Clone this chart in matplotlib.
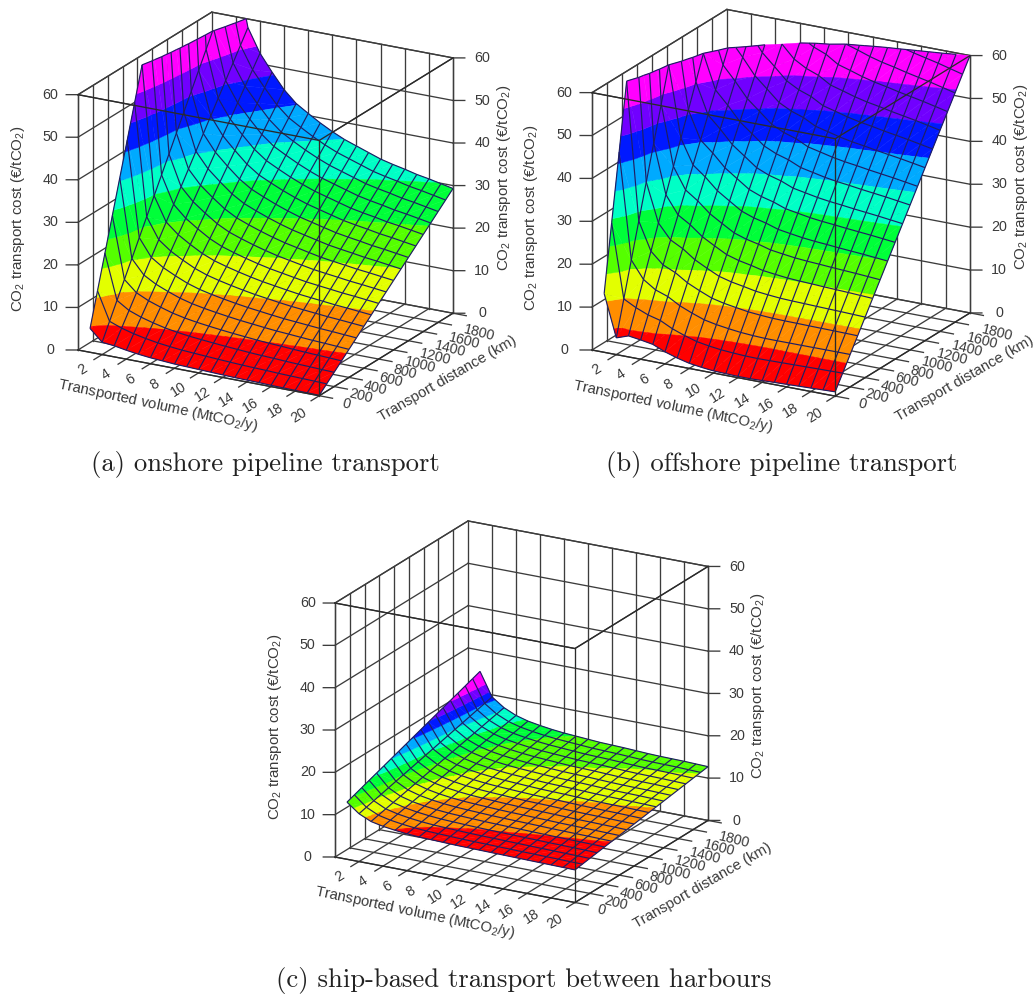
import numpy as np
import matplotlib
matplotlib.use('Agg')
import matplotlib.pyplot as plt
from mpl_toolkits.mplot3d import proj3d
from mpl_toolkits.mplot3d.art3d import Poly3DCollection, Line3DCollection

plt.rcParams['font.family'] = ['Liberation Sans', 'DejaVu Sans']
plt.rcParams['mathtext.default'] = 'regular'

volumes = np.arange(1, 21)           # MtCO2/y
distances = np.arange(0, 1801, 100)  # km, mesh lines of the surface
x_ticks = list(range(2, 21, 2))
y_ticks = list(range(0, 1801, 200))
z_ticks = list(range(0, 61, 10))
band_colors = ['#ff0000', '#ff8e00', '#e3ff00', '#55ff00', '#00ff39',
               '#00ffc6', '#00aaff', '#0019ff', '#7100ff', '#ff00ff']

# cost read along the two edges of each surface, d=0 km and d=1800 km (the
# constant-volume mesh lines are straight between them in the picture)
onshore_near = [5.6, 2.9, 2.6, 2.1, 1.7, 1.4, 1.2, 1.0, 0.9, 0.8,
                0.7, 0.6, 0.5, 0.45, 0.4, 0.3, 0.25, 0.2, 0.15, 0.1]
onshore_far = [145.5, 72, 58, 52.5, 48.6, 45, 42.3, 40.5, 38.8, 37.3,
               36, 35, 34, 33, 32.3, 31.7, 31, 30.5, 29.9, 29.3]
offshore_near = [13.7, 3.9, 4.9, 4.5, 4.0, 2.8, 1.9, 1.2, 0.8, 0.5,
                 0.4, 0.3, 0.3, 0.4, 0.5, 0.6, 0.7, 0.8, 0.9, 1.0]
offshore_far = [291, 148, 104, 90, 85, 80, 76.6, 73, 71, 69.7,
                67.5, 66.5, 65.4, 64.5, 63.8, 63, 62.3, 61.6, 60.8, 60]
ship_near = [13.5, 11.3, 10.0, 9.4, 9.0, 8.7, 8.5, 8.4, 8.3, 8.2,
             8.15, 8.1, 8.05, 8.0, 7.95, 7.9, 7.85, 7.8, 7.75, 7.7]
ship_far = [25, 19.5, 17.5, 16.2, 15.4, 14.9, 14.5, 14.2, 14.0, 13.8,
            13.6, 13.5, 13.4, 13.25, 13.1, 13.0, 12.95, 12.9, 12.8, 12.7]

W, H = 1035, 994
line_col = '#3c3c3c'
mesh_col = '#1e1e64'
text_col = '#3a3a3a'
fig = plt.figure(figsize=(W / 100, H / 100), dpi=100)


def clip(pts, level, keep_below):
    # Sutherland-Hodgman against a horizontal plane z = level
    out = []
    for i in range(len(pts)):
        p, q = pts[i], pts[(i + 1) % len(pts)]
        p_in = p[2] <= level if keep_below else p[2] >= level
        q_in = q[2] <= level if keep_below else q[2] >= level
        if p_in:
            out.append(p)
        if p_in != q_in:
            t = (level - p[2]) / (q[2] - p[2])
            out.append((p[0] + t * (q[0] - p[0]), p[1] + t * (q[1] - p[1]), level))
    return out


def draw_surface(ax, near, far, levels, cap_at=60):
    near = np.array(near)
    far = np.array(far)
    Z = near[:, None] + (far - near)[:, None] * distances[None, :] / 1800.0
    polys = []
    cols = []
    segs = []
    for i in range(len(volumes) - 1):
        for j in range(len(distances) - 1):
            a = (volumes[i], distances[j], Z[i, j])
            b = (volumes[i + 1], distances[j], Z[i + 1, j])
            c = (volumes[i + 1], distances[j + 1], Z[i + 1, j + 1])
            d = (volumes[i], distances[j + 1], Z[i, j + 1])
            for tri in ([a, b, c], [a, c, d]):
                tri = clip(tri, cap_at, True)
                if len(tri) < 3:
                    continue
                for k, col in enumerate(band_colors):
                    part = tri if k == len(band_colors) - 1 else clip(tri, levels[k + 1], True)
                    if len(part) >= 3 and k > 0:
                        part = clip(part, levels[k], False)
                    if len(part) >= 3:
                        polys.append(part)
                        cols.append(col)
                capped = [p for p in tri if abs(p[2] - cap_at) < 1e-9]
                if len(capped) == 2:
                    segs.append(capped)
    # mesh lines, cut off at the top of the cost axis
    for i in range(len(volumes)):
        for j in range(len(distances) - 1):
            s = clip([(volumes[i], distances[j], Z[i, j]),
                      (volumes[i], distances[j + 1], Z[i, j + 1])], cap_at, True)
            if len(s) >= 2:
                segs.append(s[:2])
    for j in range(len(distances)):
        for i in range(len(volumes) - 1):
            s = clip([(volumes[i], distances[j], Z[i, j]),
                      (volumes[i + 1], distances[j], Z[i + 1, j])], cap_at, True)
            if len(s) >= 2:
                segs.append(s[:2])
    surf = Poly3DCollection(polys, facecolors=cols, edgecolors=cols, linewidths=0.3, zorder=2)
    ax.add_collection3d(surf)
    ax.add_collection3d(Line3DCollection(segs, colors=mesh_col, linewidths=0.85, zorder=3))


def draw_box(ax):
    xm, ym, zm = 20, 1800, 60
    kw = dict(color=line_col, lw=0.95, zorder=1)
    for x in x_ticks:
        ax.plot([x, x], [0, ym], [0, 0], **kw)
        ax.plot([x, x], [ym, ym], [0, zm], **kw)
        ax.plot([x, x], [0, -110], [0, 0], **kw)
    for y in y_ticks:
        ax.plot([0, xm], [y, y], [0, 0], **kw)
        ax.plot([0, 0], [y, y], [0, zm], **kw)
        ax.plot([xm, xm + 1.1], [y, y], [0, 0], **kw)
    for z in z_ticks:
        ax.plot([0, 0], [0, ym], [z, z], **kw)
        ax.plot([0, xm], [ym, ym], [z, z], **kw)
        ax.plot([0, -0.75], [0, -37], [z, z], **kw)
        ax.plot([xm, xm + 0.75], [ym, ym + 37], [z, z], **kw)
    ax.plot([0, 0, xm, xm, 0], [0, ym, ym, 0, 0], [zm] * 5, **kw)
    ax.plot([0, 0], [0, 0], [0, zm], **kw)
    ax.plot([xm, xm], [ym, ym], [0, zm], **kw)
    # front edges sit on top of the surface
    top = dict(color='#2a2a2a', lw=0.95, zorder=4)
    ax.plot([0, xm, xm], [0, 0, ym], [zm, zm, zm], **top)
    ax.plot([xm, xm], [0, 0], [0, zm], **top)
    ax.plot([0, xm, xm], [0, 0, ym], [0, 0, 0], **top)


def to_px(ax, x, y, z):
    xp, yp, _ = proj3d.proj_transform(x, y, z, ax.get_proj())
    return ax.transData.transform((xp, yp))


def label(ax, x, y, z, s, rotation=0, size=10.3, drop=0):
    # text goes on the figure at the projected spot, so the rotation stays as given
    px, py = to_px(ax, x, y, z)
    fig.text(px / W, (py - drop) / H, s, rotation=rotation, color=text_col, fontsize=size,
             ha='center', va='center', rotation_mode='anchor')


def draw_labels(ax):
    # the reference has a slight perspective, so its label rows sag a little
    for x in x_ticks:
        label(ax, x, -270, 0, str(x), rotation=32, drop=2 + 5 * x / 20)
    for y in y_ticks:
        label(ax, 22.2, y, 0, str(y), rotation=-14, drop=3 + 12 * y / 1800)
    for z in z_ticks:
        label(ax, -1.75, -85, z, str(z))
        label(ax, 21.85, 1890, z, str(z))
    label(ax, 10.8, -680, 0, 'Transported volume (MtCO$_2$/y)', rotation=-12, size=10.7)
    label(ax, 26.4, 690, 0, 'Transport distance (km)', rotation=30, size=10.7)
    zlab = 'CO$_2$ transport cost (€/tCO$_2$)'
    label(ax, -5, 0, 28.8, zlab, rotation=90, size=10.9, drop=3)
    label(ax, 24.2, 1800, 34, zlab, rotation=90, size=10.9)


def place(ax, left_px, right_px):
    # size and shift the square axes so the box corners land on the given pixels
    side = 500
    ax.set_position([0, 0, side / W, side / H])
    ax.apply_aspect()
    a = to_px(ax, 0, 0, 0)
    b = to_px(ax, 20, 1800, 0)
    side = side * (right_px[0] - left_px[0]) / (b[0] - a[0])
    ax.set_position([0, 0, side / W, side / H])
    ax.apply_aspect()
    a = to_px(ax, 0, 0, 0)
    ax.set_position([(left_px[0] - a[0]) / W, ((H - left_px[1]) - a[1]) / H, side / W, side / H])
    ax.apply_aspect()


def panel(near, far, levels, left_px, right_px):
    ax = fig.add_subplot(projection='3d', computed_zorder=False)
    ax.view_init(elev=20, azim=-61)
    ax.set_proj_type('ortho')
    ax.set_box_aspect((1, 1, 0.985))
    ax.set_xlim(0, 20, view_margin=0)
    ax.set_ylim(0, 1800, view_margin=0)
    ax.set_zlim(0, 60, view_margin=0)
    ax.set_axis_off()
    ax.patch.set_alpha(0)
    draw_box(ax)
    draw_surface(ax, near, far, levels)
    place(ax, left_px, right_px)
    draw_labels(ax)
    return ax


panel(onshore_near, onshore_far, list(range(0, 61, 6)), (78, 350), (453, 313))
panel(offshore_near, offshore_far, list(range(0, 61, 6)), (592, 350), (970, 313))
panel(ship_near, ship_far, [7.4 + 1.65 * i for i in range(11)], (335, 857), (708, 820))

cap = dict(family='cmr10', fontsize=19.2, color='#222222', ha='center', va='center')
fig.text(265 / W, 1 - 465 / H, '(a) onshore pipeline transport', **cap)
fig.text(782 / W, 1 - 465 / H, '(b) offshore pipeline transport', **cap)
fig.text(524 / W, 1 - 981 / H, '(c) ship-based transport between harbours', **cap)

fig.savefig('out.png', dpi=100)
